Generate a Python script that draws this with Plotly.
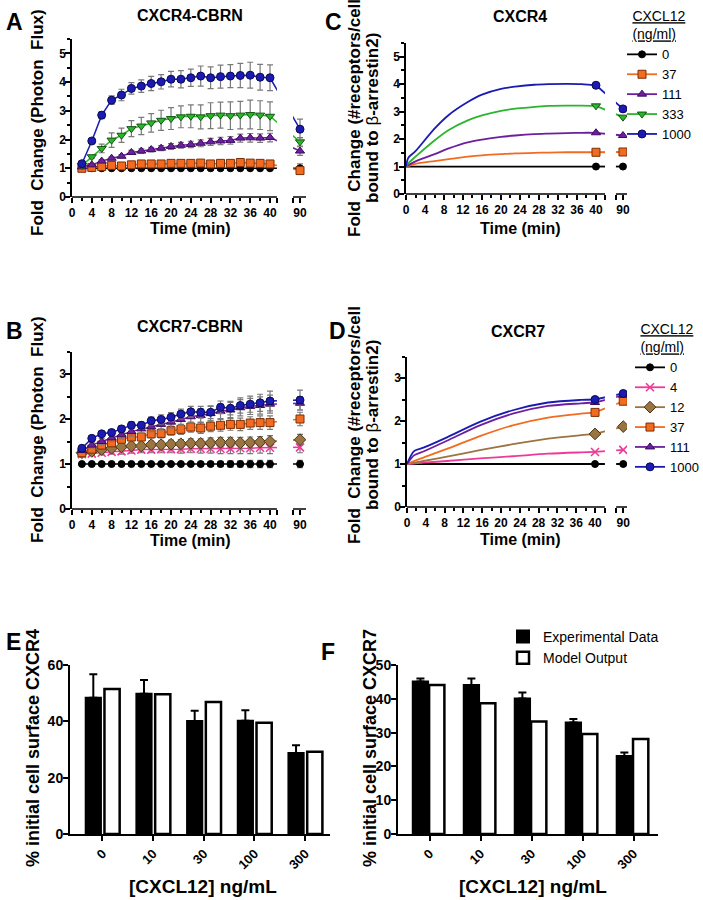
import plotly.graph_objects as go

W, H = 703, 900
FONT = "Arial, 'Liberation Sans', sans-serif"

# ---------------- data ----------------
# experimental time points (min); the 90 min point sits after the axis break
t_exp = [2, 4, 6, 8, 10, 12, 14, 16, 18, 20, 22, 24, 26, 28, 30, 32, 34, 36, 38, 40, 90]

# A: CXCR4-CBRN (fold change photon flux)
a_0 = [1.00, 1.00, 1.00, 1.00, 1.00, 1.00, 1.00, 1.00, 1.00, 1.00, 1.00, 1.00, 1.00, 1.00, 1.00, 1.00, 1.00, 1.00, 1.00, 1.00, 1.00]
a_0_err = [0.02, 0.02, 0.02, 0.02, 0.02, 0.02, 0.02, 0.02, 0.02, 0.02, 0.02, 0.02, 0.03, 0.03, 0.03, 0.03, 0.03, 0.03, 0.03, 0.03, 0.15]
a_37 = [1.00, 1.03, 1.06, 1.10, 1.08, 1.12, 1.15, 1.15, 1.15, 1.17, 1.17, 1.17, 1.18, 1.15, 1.17, 1.17, 1.20, 1.18, 1.17, 1.15, 0.92]
a_37_err = [0.03, 0.04, 0.05, 0.06, 0.06, 0.07, 0.07, 0.07, 0.08, 0.08, 0.08, 0.08, 0.08, 0.08, 0.09, 0.09, 0.09, 0.09, 0.09, 0.09, 0.12]
a_111 = [1.05, 1.12, 1.25, 1.35, 1.42, 1.55, 1.60, 1.65, 1.70, 1.76, 1.80, 1.83, 1.87, 1.92, 1.95, 1.97, 2.05, 2.06, 2.05, 2.07, 1.60]
a_111_err = [0.03, 0.04, 0.05, 0.05, 0.06, 0.07, 0.08, 0.08, 0.09, 0.10, 0.10, 0.11, 0.12, 0.12, 0.13, 0.13, 0.14, 0.15, 0.15, 0.15, 0.15]
a_333 = [1.10, 1.40, 1.69, 1.98, 2.15, 2.38, 2.47, 2.58, 2.67, 2.73, 2.79, 2.81, 2.79, 2.83, 2.85, 2.83, 2.85, 2.87, 2.85, 2.81, 1.92]
a_333_err = [0.03, 0.05, 0.15, 0.25, 0.25, 0.28, 0.30, 0.32, 0.35, 0.38, 0.38, 0.40, 0.42, 0.45, 0.45, 0.48, 0.48, 0.50, 0.50, 0.50, 0.15]
a_1000 = [1.16, 1.95, 2.85, 3.37, 3.55, 3.78, 3.86, 3.95, 4.01, 4.10, 4.10, 4.15, 4.21, 4.15, 4.19, 4.21, 4.23, 4.24, 4.17, 4.15, 2.36]
a_1000_err = [0.05, 0.05, 0.12, 0.15, 0.20, 0.20, 0.22, 0.25, 0.25, 0.27, 0.30, 0.30, 0.35, 0.38, 0.40, 0.40, 0.42, 0.45, 0.45, 0.45, 0.35]

# B: CXCR7-CBRN
b_0 = [1.00, 1.00, 1.00, 1.00, 1.00, 1.00, 1.00, 1.00, 1.00, 1.00, 1.00, 1.00, 1.00, 1.00, 1.00, 1.00, 1.00, 1.00, 1.00, 1.00, 1.00]
b_0_err = [0.0, 0.0, 0.0, 0.0, 0.0, 0.0, 0.0, 0.0, 0.0, 0.0, 0.0, 0.02, 0.04, 0.05, 0.06, 0.07, 0.07, 0.08, 0.08, 0.08, 0.08]
b_4 = [1.22, 1.23, 1.25, 1.27, 1.28, 1.30, 1.32, 1.32, 1.33, 1.33, 1.33, 1.34, 1.34, 1.34, 1.34, 1.34, 1.35, 1.35, 1.36, 1.36, 1.37]
b_4_err = [0.03, 0.04, 0.05, 0.05, 0.06, 0.06, 0.07, 0.07, 0.08, 0.08, 0.09, 0.09, 0.10, 0.10, 0.11, 0.11, 0.12, 0.12, 0.12, 0.13, 0.12]
b_12 = [1.25, 1.28, 1.32, 1.35, 1.38, 1.40, 1.40, 1.43, 1.43, 1.44, 1.45, 1.46, 1.46, 1.47, 1.48, 1.48, 1.47, 1.48, 1.49, 1.50, 1.54]
b_12_err = [0.04, 0.05, 0.05, 0.06, 0.06, 0.07, 0.07, 0.08, 0.08, 0.09, 0.09, 0.10, 0.10, 0.11, 0.11, 0.11, 0.12, 0.12, 0.12, 0.13, 0.12]
b_37 = [1.25, 1.33, 1.42, 1.47, 1.55, 1.60, 1.60, 1.67, 1.68, 1.74, 1.77, 1.82, 1.80, 1.84, 1.86, 1.88, 1.88, 1.91, 1.92, 1.92, 2.00]
b_37_err = [0.04, 0.05, 0.06, 0.06, 0.07, 0.08, 0.08, 0.09, 0.10, 0.10, 0.11, 0.11, 0.12, 0.12, 0.13, 0.13, 0.14, 0.14, 0.15, 0.15, 0.15]
b_111 = [1.30, 1.42, 1.50, 1.58, 1.65, 1.72, 1.78, 1.83, 1.88, 1.93, 1.99, 2.05, 2.08, 2.12, 2.17, 2.20, 2.25, 2.28, 2.30, 2.33, 2.35]
b_111_err = [0.05, 0.06, 0.07, 0.08, 0.09, 0.10, 0.10, 0.11, 0.12, 0.13, 0.13, 0.14, 0.15, 0.16, 0.16, 0.17, 0.18, 0.18, 0.19, 0.20, 0.15]
b_1000 = [1.35, 1.57, 1.67, 1.70, 1.78, 1.86, 1.86, 1.96, 1.99, 2.04, 2.11, 2.16, 2.15, 2.15, 2.26, 2.24, 2.30, 2.33, 2.36, 2.40, 2.42]
b_1000_err = [0.04, 0.05, 0.05, 0.06, 0.07, 0.08, 0.08, 0.09, 0.10, 0.10, 0.11, 0.12, 0.13, 0.14, 0.14, 0.15, 0.17, 0.18, 0.19, 0.22, 0.22]

# C: CXCR4 model (receptors bound to beta-arrestin2)
c_t = [0, 0.5, 2, 6, 9, 13, 16, 20, 23, 27, 30, 34, 37, 40]
c_0 = [1.00, 1.00, 1.00, 1.00, 1.00, 1.00, 1.00, 1.00, 1.00, 1.00, 1.00, 1.00, 1.00, 1.00]
c_37 = [1.00, 1.02, 1.10, 1.20, 1.27, 1.36, 1.41, 1.45, 1.48, 1.50, 1.51, 1.52, 1.52, 1.52]
c_111 = [1.00, 1.05, 1.19, 1.45, 1.66, 1.88, 1.98, 2.08, 2.13, 2.18, 2.20, 2.22, 2.23, 2.23]
c_333 = [1.00, 1.12, 1.36, 1.95, 2.33, 2.68, 2.86, 3.03, 3.11, 3.17, 3.21, 3.22, 3.22, 3.21]
c_1000 = [1.00, 1.32, 1.56, 2.38, 2.88, 3.35, 3.62, 3.83, 3.91, 3.98, 4.00, 4.01, 4.00, 3.96]
c_at90 = {"0": 1.00, "37": 1.53, "111": 2.13, "333": 2.80, "1000": 3.10}

# D: CXCR7 model
d_t = [0, 1.5, 3.5, 8.5, 15.5, 22.5, 30, 37, 40]
d_0 = [1.00, 1.00, 1.00, 1.00, 1.00, 1.00, 1.00, 1.00, 1.00]
d_4 = [1.00, 1.01, 1.03, 1.07, 1.13, 1.18, 1.24, 1.27, 1.28]
d_12 = [1.00, 1.03, 1.07, 1.17, 1.32, 1.46, 1.59, 1.67, 1.70]
d_37 = [1.00, 1.07, 1.15, 1.35, 1.65, 1.90, 2.08, 2.17, 2.20]
d_111 = [1.00, 1.20, 1.29, 1.54, 1.90, 2.17, 2.35, 2.41, 2.43]
d_1000 = [1.00, 1.30, 1.38, 1.62, 1.98, 2.25, 2.43, 2.49, 2.50]
d_at90 = {"0": 1.00, "4": 1.33, "12": 1.87, "37": 2.46, "111": 2.60, "1000": 2.64}

# E / F: % initial cell surface receptor
doses = ["0", "10", "30", "100", "300"]
e_exp = [48.4, 49.8, 40.1, 40.2, 28.8]
e_exp_err = [8.3, 4.9, 3.7, 3.7, 2.7]
e_model = [51.5, 49.6, 46.9, 39.5, 29.2]
f_exp = [45.1, 44.1, 40.1, 33.0, 23.1]
f_exp_err = [0.9, 1.9, 1.8, 1.0, 1.0]
f_model = [44.1, 38.7, 33.3, 29.6, 28.1]

major_ticks = [0, 4, 8, 12, 16, 20, 24, 28, 32, 36, 40]
minor_ticks = [2, 6, 10, 14, 18, 22, 26, 30, 34, 38]

# ---------------- styles ----------------
STY = {
    "0": dict(color="#000000", symbol="circle", edge="#000000", size=7),
    "4": dict(color="#ee3a96", symbol="x-thin", edge="#ee3a96", size=8),
    "12": dict(color="#9a7441", symbol="diamond", edge="#4a3515", size=9),
    "37": dict(color="#f26b21", symbol="square", edge="#7a2f05", size=8),
    "111": dict(color="#6c1f9e", symbol="triangle-up", edge="#3b0c5c", size=8),
    "333": dict(color="#2cb52c", symbol="triangle-down", edge="#125512", size=8),
    "1000": dict(color="#1b1bb3", symbol="circle", edge="#0a0a55", size=8),
}
TICK = dict(family=FONT, size=12, color="black", weight="bold")

# panel geometry: pixel box of plot area, x-range, display slot of 90 min, axis break
PANELS = {
    "A": dict(s="", px=(72, 306), py=(39, 197), xmax=47.27, x90=46.06, gap=(41.4, 44.65), ymax=5.5),
    "C": dict(s="2", px=(406, 627), py=(43, 194), xmax=46.53, x90=45.68, gap=(41.9, 44.2), ymax=5.5),
    "B": dict(s="3", px=(72, 306), py=(351.5, 509), xmax=47.27, x90=46.06, gap=(41.4, 44.65), ymax=3.5),
    "D": dict(s="4", px=(407, 627), py=(356.5, 507), xmax=46.8, x90=46.0, gap=(42.1, 44.5), ymax=3.5),
}

fig = go.Figure()


def brk(times, x90):
    return [t if t <= 40 else x90 for t in times]


def marker(key):
    st = STY[key]
    lw = 1.6 if st["symbol"] == "x-thin" else 1
    return dict(symbol=st["symbol"], size=st["size"], color=st["color"],
                line=dict(color=st["edge"], width=lw))


def add_exp(panel, key, y, err):
    p = PANELS[panel]
    fig.add_trace(go.Scatter(
        x=brk(t_exp, p["x90"]), y=y, mode="lines+markers",
        line=dict(color=STY[key]["color"], width=1.5), marker=marker(key),
        error_y=dict(type="data", array=err, color="#7a7a7a", thickness=1.2, width=3),
        xaxis="x" + p["s"], yaxis="y" + p["s"], showlegend=False))


def add_model(panel, key, tt, y, y90, legend):
    p = PANELS[panel]
    st = STY[key]
    fig.add_trace(go.Scatter(
        x=tt, y=y, mode="lines", line=dict(color=st["color"], width=1.8, shape="spline", smoothing=0.8),
        xaxis="x" + p["s"], yaxis="y" + p["s"], showlegend=False, hoverinfo="skip"))
    fig.add_trace(go.Scatter(
        x=[40, p["x90"]], y=[y[-1], y90], mode="lines+markers", name=key,
        line=dict(color=st["color"], width=1.8), marker=marker(key),
        xaxis="x" + p["s"], yaxis="y" + p["s"], legend=legend))


for key, y, e in [("0", a_0, a_0_err), ("37", a_37, a_37_err), ("111", a_111, a_111_err),
                  ("333", a_333, a_333_err), ("1000", a_1000, a_1000_err)]:
    add_exp("A", key, y, e)

for key, y, e in [("0", b_0, b_0_err), ("4", b_4, b_4_err), ("12", b_12, b_12_err),
                  ("37", b_37, b_37_err), ("111", b_111, b_111_err), ("1000", b_1000, b_1000_err)]:
    add_exp("B", key, y, e)

for key, y in [("0", c_0), ("37", c_37), ("111", c_111), ("333", c_333), ("1000", c_1000)]:
    add_model("C", key, c_t, y, c_at90[key], "legend")

for key, y in [("0", d_0), ("4", d_4), ("12", d_12), ("37", d_37), ("111", d_111), ("1000", d_1000)]:
    add_model("D", key, d_t, y, d_at90[key], "legend2")

# bar panels
for s, exp, err, model, boff, woff in [("5", e_exp, e_exp_err, e_model, -0.33, 0.04),
                                       ("6", f_exp, f_exp_err, f_model, -0.33, -0.01)]:
    fig.add_trace(go.Bar(
        x=doses, y=exp, width=0.30, offset=boff, name="Experimental Data",
        marker=dict(color="black", line=dict(color="black", width=2)),
        error_y=dict(type="data", array=err, arrayminus=[0 for _ in err], symmetric=False,
                     color="black", thickness=2, width=4),
        xaxis="x" + s, yaxis="y" + s, legend="legend3", showlegend=(s == "6")))
    fig.add_trace(go.Bar(
        x=doses, y=model, width=0.30, offset=woff, name="Model Output",
        marker=dict(color="white", line=dict(color="black", width=2.5)),
        xaxis="x" + s, yaxis="y" + s, legend="legend3", showlegend=(s == "6")))

# ---------------- axes ----------------
layout_axes = {}
shapes = []
for name, p in PANELS.items():
    s = p["s"]
    layout_axes["xaxis" + s] = dict(
        domain=[p["px"][0] / W, p["px"][1] / W], range=[0, p["xmax"]], anchor="y" + s,
        showline=False, showgrid=False, zeroline=False, automargin=False,
        tickmode="array", tickvals=major_ticks + [p["gap"][0], p["gap"][1], p["x90"]],
        ticktext=[str(v) for v in major_ticks] + ["", "", "90"],
        ticks="outside", ticklen=5, tickwidth=1.5, tickcolor="black", tickfont=TICK,
        minor=dict(tickmode="array", tickvals=minor_ticks, ticklen=3, tickwidth=1.5,
                   tickcolor="black", ticks="outside"))
    layout_axes["yaxis" + s] = dict(
        domain=[1 - p["py"][1] / H, 1 - p["py"][0] / H], range=[0, p["ymax"]], anchor="x" + s,
        showline=True, linecolor="black", linewidth=1.5, showgrid=False, zeroline=False, automargin=False,
        tick0=0, dtick=1, ticks="outside", ticklen=5, tickwidth=1.5, tickcolor="black", tickfont=TICK,
        ticklabelstandoff=-3,
        minor=dict(dtick=0.5, ticklen=3, tickwidth=1.5, tickcolor="black", ticks="outside"))
    xr, yr = "x" + s, "y" + s + " domain"
    shapes += [
        dict(type="rect", xref=xr, yref=yr, x0=p["gap"][0], x1=p["gap"][1], y0=0, y1=1,
             fillcolor="white", line=dict(width=0), layer="above"),
        dict(type="line", xref=xr, yref=yr, x0=0, x1=p["gap"][0], y0=0, y1=0,
             line=dict(color="black", width=1.5)),
        dict(type="line", xref=xr, yref=yr, x0=p["gap"][1], x1=p["xmax"], y0=0, y1=0,
             line=dict(color="black", width=1.5)),
    ]

for s, px, xr, ymax, dt in [("5", (70, 330), (-0.64, 4.49), 60, 20), ("6", (398, 658), (-0.62, 4.48), 50, 10)]:
    layout_axes["xaxis" + s] = dict(
        type="category", domain=[px[0] / W, px[1] / W], range=list(xr), anchor="y" + s,
        showline=True, linecolor="black", linewidth=2, showgrid=False, zeroline=False, automargin=False,
        ticks="outside", ticklen=5, tickwidth=2, tickcolor="black", tickangle=-45,
        tickfont=dict(family=FONT, size=13, color="black", weight="bold"))
    layout_axes["yaxis" + s] = dict(
        domain=[1 - 834 / H, 1 - 665 / H], range=[0, ymax], anchor="x" + s,
        showline=True, linecolor="black", linewidth=2, showgrid=False, zeroline=False, automargin=False,
        tick0=0, dtick=dt, ticks="outside", ticklen=5, tickwidth=2, tickcolor="black",
        ticklabelstandoff=-3,
        tickfont=dict(family=FONT, size=14, color="black", weight="bold"))

# ---------------- text ----------------
ann = []


def text(t, x, y, size, angle=0, bold=True):
    ann.append(dict(text=("<b>%s</b>" % t) if bold else t, x=x / W, y=1 - y / H, xref="paper", yref="paper",
                    showarrow=False, xanchor="center", yanchor="middle", textangle=angle,
                    font=dict(family=FONT, size=size, color="black")))


for lab, x, y in [("A", 14, 22), ("C", 333, 22), ("B", 15, 331), ("D", 337, 331), ("E", 13, 642), ("F", 328, 652)]:
    text(lab, x, y, 23)
for lab, x, y in [("CXCR4-CBRN", 190, 15), ("CXCR4", 520, 17), ("CXCR7-CBRN", 190, 327), ("CXCR7", 518, 332)]:
    text(lab, x, y, 16)
for x, y in [(190, 228), (520, 228), (190, 540), (520, 539)]:
    text("Time (min)", x, y, 16)
for y in [123, 430]:
    text("Fold\u00a0 Change (Photon\u00a0 Flux)", 37, y, 17, angle=-90)
    text("Fold\u00a0 Change (#receptors/cell", 354, y - 5, 17, angle=-90)
    text("bound to <span style='font-weight:normal'>β</span>-arrestin2)", 372, y - 5, 17, angle=-90)
text("% initial cell surface CXCR4", 33, 748, 18, angle=-90)
text("% initial cell surface CXCR7", 370, 748, 18, angle=-90)
text("[CXCL12] ng/mL", 203, 886, 19)
text("[CXCL12] ng/mL", 533, 886, 19)

LEG_TITLE = dict(text="<u>CXCL12</u><br><u>(ng/ml)</u>", side="top center",
                 font=dict(family=FONT, size=14, color="black"))

fig.update_layout(
    width=W, height=H, margin=dict(l=0, r=0, t=0, b=0, autoexpand=False),
    paper_bgcolor="white", plot_bgcolor="white",
    font=dict(family=FONT, color="black"),
    barmode="group",
    annotations=ann, shapes=shapes,
    legend=dict(x=622 / W, y=1 - 3 / H, xanchor="left", yanchor="top", bgcolor="rgba(0,0,0,0)",
                font=dict(family=FONT, size=13, color="black"), title=LEG_TITLE, itemwidth=30),
    legend2=dict(x=630 / W, y=1 - 316 / H, xanchor="left", yanchor="top", bgcolor="rgba(0,0,0,0)",
                 font=dict(family=FONT, size=13, color="black"), title=LEG_TITLE, itemwidth=30),
    legend3=dict(x=503 / W, y=1 - 621 / H, xanchor="left", yanchor="top", bgcolor="rgba(0,0,0,0)",
                 font=dict(family=FONT, size=14, color="black"), itemwidth=30),
    **layout_axes,
)

# drop the browser's default body margin so the figure sits at the page origin
fig.write_html("out.html", config={"displayModeBar": False},
               post_script="document.body.style.margin='0';")
